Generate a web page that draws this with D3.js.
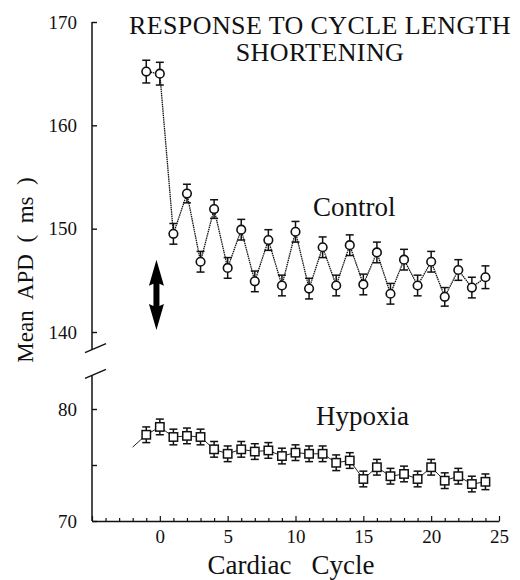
<!DOCTYPE html>
<html>
<head>
<meta charset="utf-8">
<script src="https://cdn.jsdelivr.net/npm/d3@7"></script>
</head>
<body style="margin:0">
<svg id="chart" width="520" height="580"></svg>
<script>
// cycles
const controlCycles = d3.range(-1, 25);
const controlAPD = [165.2, 165.0, 149.5, 153.4, 146.8, 151.9, 146.2, 149.9, 144.9, 148.9,
                    144.5, 149.7, 144.2, 148.2, 144.5, 148.4, 144.6, 147.7, 143.7, 147.0,
                    144.5, 146.8, 143.4, 146.0, 144.3, 145.3];
const controlErr = [1.1, 1.1, 1.0, 0.9, 1.0, 0.9, 1.0, 1.0, 1.0, 1.0,
                    1.0, 1.0, 1.0, 1.0, 1.0, 1.0, 1.0, 1.0, 1.0, 1.0,
                    1.0, 1.0, 0.9, 1.0, 1.0, 1.1];

// hypoxia line starts one cycle earlier (no marker there)
const hypoxiaCycles = d3.range(-2, 25);
const hypoxiaAPD = [76.6, 77.7, 78.4, 77.5, 77.6, 77.5, 76.4, 76.0, 76.4, 76.2, 76.3,
                    75.8, 76.1, 76.0, 76.0, 75.2, 75.4, 73.75, 74.8, 74.0, 74.2,
                    73.75, 74.8, 73.6, 74.0, 73.3, 73.5];
const hypoxiaErr = [0, 0.7, 0.7, 0.7, 0.7, 0.7, 0.7, 0.7, 0.7, 0.7, 0.7,
                    0.7, 0.7, 0.7, 0.7, 0.7, 0.7, 0.7, 0.7, 0.7, 0.7,
                    0.7, 0.7, 0.7, 0.7, 0.7, 0.7];

const xTicks = d3.range(-5, 26);
const yTopTicks = [140, 150, 160, 170];
const yBotTicks = [70, 75, 80];

// double arrow: cycle, top value, bottom value (upper panel units)
const arrowX = -0.25, arrowTop = 147.0, arrowBottom = 140.2;

const serif = '"Liberation Serif"';
const svg = d3.select("#chart");

const x = d3.scaleLinear().domain([-5, 25]).range([92, 499]);
const yTop = d3.scaleLinear().domain([140, 170]).range([332, 22]);
const yBot = d3.scaleLinear().domain([70, 80]).range([521, 409]);
const topMin = 138.3, botMax = 83;

function styleAxis(g) {
  g.attr("font-family", "Liberation Serif").attr("font-size", 19);
  g.selectAll("text")
    .attr("font-family", "Liberation Serif")
    .style("font-family", serif)
    .attr("fill", "#111");
  g.selectAll("line").attr("stroke", "#111").attr("stroke-width", 1.4);
  g.select(".domain").attr("stroke", "#111").attr("stroke-width", 1.5);
}

// ---- axes
const gx = svg.append("g")
  .attr("transform", `translate(0,${yBot(70)})`)
  .call(d3.axisBottom(x).tickValues(xTicks).tickSize(-3).tickPadding(9).tickSizeOuter(0)
    .tickFormat(d => d >= 0 && d % 5 === 0 ? d : ""));
styleAxis(gx);
gx.selectAll(".tick line").attr("y2", d => d % 5 === 0 ? -5 : -3).attr("stroke-width", 1.2);

const gyTop = svg.append("g")
  .attr("transform", `translate(${x(-5)},0)`)
  .call(d3.axisLeft(yTop).tickValues(yTopTicks).tickSize(-5).tickPadding(15));
gyTop.select(".domain").remove();
styleAxis(gyTop);

const gyBot = svg.append("g")
  .attr("transform", `translate(${x(-5)},0)`)
  .call(d3.axisLeft(yBot).tickValues(yBotTicks).tickSize(-5).tickPadding(15)
    .tickFormat(d => d % 10 === 0 ? d : ""));
gyBot.select(".domain").remove();
styleAxis(gyBot);

// broken y axis
svg.append("line")
  .attr("x1", x(-5)).attr("x2", x(-5))
  .attr("y1", yTop(170)).attr("y2", yTop(topMin))
  .attr("stroke", "#111").attr("stroke-width", 1.5);
svg.append("line")
  .attr("x1", x(-5)).attr("x2", x(-5))
  .attr("y1", yBot(botMax)).attr("y2", yBot(70))
  .attr("stroke", "#111").attr("stroke-width", 1.5);
[yTop(topMin), yBot(botMax)].forEach(yy => {
  svg.append("line")
    .attr("x1", x(-5) - 7).attr("x2", x(-5) + 14)
    .attr("y1", yy + 3).attr("y2", yy - 6)
    .attr("stroke", "#111").attr("stroke-width", 1.5);
});

// ---- series
const control = controlCycles.map((c, i) => ({c, v: controlAPD[i], e: controlErr[i]}));
const hypoxia = hypoxiaCycles.map((c, i) => ({c, v: hypoxiaAPD[i], e: hypoxiaErr[i]}));

svg.append("path")
  .datum(control)
  .attr("fill", "none")
  .attr("stroke", "#111")
  .attr("stroke-width", 1.3)
  .attr("stroke-dasharray", "1.5,0.7")
  .attr("d", d3.line().x(d => x(d.c)).y(d => yTop(d.v)));

svg.append("path")
  .datum(hypoxia)
  .attr("fill", "none")
  .attr("stroke", "#222")
  .attr("stroke-width", 1)
  .attr("d", d3.line().x(d => x(d.c)).y(d => yBot(d.v)));

function errorBars(data, y) {
  const g = svg.append("g").attr("stroke", "#111").attr("stroke-width", 1.5);
  data.filter(d => d.e > 0).forEach(d => {
    const cx = x(d.c);
    g.append("line").attr("x1", cx).attr("x2", cx).attr("y1", y(d.v + d.e)).attr("y2", y(d.v - d.e));
    g.append("line").attr("x1", cx - 4).attr("x2", cx + 4).attr("y1", y(d.v + d.e)).attr("y2", y(d.v + d.e));
    g.append("line").attr("x1", cx - 4).attr("x2", cx + 4).attr("y1", y(d.v - d.e)).attr("y2", y(d.v - d.e));
  });
}
errorBars(control, yTop);
errorBars(hypoxia, yBot);

svg.append("g")
  .selectAll("circle")
  .data(control)
  .enter()
    .append("circle")
    .attr("cx", d => x(d.c))
    .attr("cy", d => yTop(d.v))
    .attr("r", 4.3)
    .attr("fill", "#fff")
    .attr("stroke", "#111")
    .attr("stroke-width", 1.6);

svg.append("g")
  .selectAll("rect")
  .data(hypoxia.filter(d => d.e > 0))
  .enter()
    .append("rect")
    .attr("x", d => x(d.c) - 4.2)
    .attr("y", d => yBot(d.v) - 4.2)
    .attr("width", 8.4)
    .attr("height", 8.4)
    .attr("fill", "#fff")
    .attr("stroke", "#111")
    .attr("stroke-width", 1.5);

// double-headed arrow
const ax = x(arrowX), ay1 = yTop(arrowTop), ay2 = yTop(arrowBottom);
const headL = 26, headW = 7.5, shaftW = 3;
svg.append("path")
  .attr("fill", "#000")
  .attr("d", `M${ax},${ay1} L${ax + headW},${ay1 + headL} L${ax + shaftW},${ay1 + headL - 2}
    L${ax + shaftW},${ay2 - headL + 2} L${ax + headW},${ay2 - headL} L${ax},${ay2}
    L${ax - headW},${ay2 - headL} L${ax - shaftW},${ay2 - headL + 2} L${ax - shaftW},${ay1 + headL - 2}
    L${ax - headW},${ay1 + headL} Z`);

// ---- text
function label(xp, yp, size, str, anchor) {
  return svg.append("text")
    .attr("x", xp).attr("y", yp)
    .attr("text-anchor", anchor || "start")
    .attr("font-size", size)
    .attr("font-family", "Liberation Serif")
    .attr("fill", "#111")
    .style("font-family", serif)
    .attr("xml:space", "preserve")
    .text(str);
}

label(320, 34, 26, "RESPONSE TO CYCLE LENGTH", "middle").attr("letter-spacing", 0.4);
label(320, 61, 26, "SHORTENING", "middle").attr("letter-spacing", 0.4);
label(313, 216, 27, "Control");
label(316, 425, 27, "Hypoxia");
label(291, 574, 27, "Cardiac\u00a0\u00a0 Cycle", "middle");
label(0, 0, 23, "Mean\u00a0 APD\u00a0 (\u00a0 ms\u00a0 )", "middle")
  .attr("transform", "translate(33,270) rotate(-90)");
</script>
</body>
</html>
